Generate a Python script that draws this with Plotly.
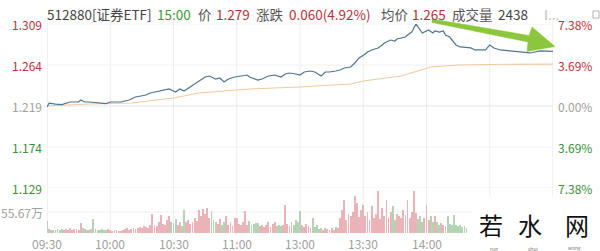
import numpy as np
import plotly.graph_objects as go

W, H = 600, 251
ML, MR = 47, 47

# ---------------- data ----------------
price_min = [0, 1, 4, 7, 11, 15, 16, 18, 20, 25, 28, 30, 35, 37, 39, 42, 44, 47, 49, 51,
             54, 56, 58, 61, 63, 65, 68, 70, 73, 75, 77, 80, 82, 84, 86, 89, 92, 95, 96, 100,
             102, 105, 108, 111, 113, 115, 118, 120, 122, 125, 127, 130, 132, 134, 137, 139, 141, 144, 146, 148,
             151, 152, 154, 157, 159, 160, 163, 165, 166, 170, 171, 173, 175, 177, 178, 181, 183, 184, 186, 188,
             189, 191, 193, 194, 196, 201, 203, 208, 210, 212, 215, 220, 224, 229, 234, 240]
price_val = [1.218, 1.222, 1.221, 1.2205, 1.2234, 1.2234, 1.2256, 1.2234, 1.2234, 1.2223, 1.2217, 1.2234, 1.2234, 1.2245, 1.2256, 1.2289, 1.230, 1.2311, 1.2333, 1.2344,
             1.2355, 1.2366, 1.2377, 1.2344, 1.2377, 1.2355, 1.2399, 1.2431, 1.2475, 1.2508, 1.2519, 1.2486, 1.2497, 1.2453, 1.2486, 1.2508, 1.2519, 1.253, 1.2508, 1.2475,
             1.2486, 1.2519, 1.253, 1.2508, 1.2541, 1.2552, 1.2541, 1.253, 1.2563, 1.2574, 1.2563, 1.2519, 1.2563, 1.2563, 1.2574, 1.2585, 1.2607, 1.2618, 1.2662, 1.2717,
             1.2761, 1.2783, 1.2805, 1.2827, 1.286, 1.2882, 1.2914, 1.2903, 1.2925, 1.2947, 1.2969, 1.3002, 1.309, 1.3024, 1.2991, 1.3024, 1.2991, 1.3013, 1.3002, 1.3013,
             1.2969, 1.2947, 1.2893, 1.286, 1.2838, 1.2827, 1.2805, 1.2805, 1.286, 1.2827, 1.2805, 1.2794, 1.2783, 1.2772, 1.2794, 1.279]

avg_min = [0, 20, 40, 60, 72, 96, 120, 144, 150, 168, 182, 195, 210, 240]
avg_val = [1.219, 1.2212, 1.2223, 1.2278, 1.2333, 1.2377, 1.2399, 1.2431, 1.2464, 1.2519, 1.2618, 1.264, 1.2646, 1.265]

volume = [32, 10, 8, 9, 7, 10, 8, 11, 9, 10,
          9, 12, 8, 10, 11, 9, 26, 12, 10, 8,
          9, 11, 37, 10, 8, 9, 11, 7, 8, 10,
          8, 6, 9, 7, 5, 6, 8, 10, 12, 9,
          11, 13, 10, 14, 16, 12, 18, 15, 13, 20,
          50, 22, 18, 30, 48, 25, 20, 35, 45, 28,
          26, 38, 22, 30, 18, 61, 28, 35, 24, 30,
          40, 32, 61, 45, 64, 50, 66, 40, 58, 35,
          30, 25, 38, 20, 28, 45, 22, 30, 18, 40,
          40, 25, 20, 30, 58, 22, 32, 20, 25, 26,
          26, 18, 22, 15, 20, 28, 17, 24, 30, 19,
          22, 18, 20, 74, 25, 18, 30, 20, 35, 28,
          58, 20, 15, 25, 18, 12, 40, 16, 20, 10,
          12, 8, 14, 10, 9, 13, 8, 15, 12, 40,
          60, 87, 35, 50, 45, 55, 98, 80, 42, 60,
          74, 45, 55, 35, 72, 40, 50, 111, 38, 66,
          45, 87, 40, 55, 72, 35, 50, 45, 40, 60,
          48, 87, 40, 55, 114, 53, 38, 45, 30, 40,
          74, 35, 45, 28, 45, 30, 20, 26, 22, 18,
          45, 24, 20, 48, 21, 18, 22, 15, 18, 14]

grid_ticks = [0, 30, 60, 90, 120, 150, 180, 210, 240]
time_ticks = [0, 30, 60, 90, 120, 150, 180]
time_labels = ["09:30", "10:00", "10:30", "11:00", "13:00", "13:30", "14:00"]
price_ticks = [1.309, 1.264, 1.219, 1.174, 1.129]
price_labels = ["1.309", "1.264", "1.219", "1.174", "1.129"]
pct_labels = ["7.38%", "3.69%", "0.00%", "3.69%", "7.38%"]
vol_tick = 55.67
vol_label = "55.67万"
header_parts = ["512880[证券ETF]", "15:00", "价", "1.279", "涨跌", "0.060(4.92%)",
                "均价", "1.265", "成交量", "2438", "I..."]

# ---------------- helpers ----------------
def px(x):
    return (x - ML) / (W - ML - MR)

def py(y):
    return 1 - y / H

RED = "#c0303a"
GREEN = "#3a8f3a"
GREY = "#a0a0a0"
label_colors = [RED, RED, GREY, GREEN, GREEN]

vidx = np.arange(len(volume))
pint = np.interp(vidx, price_min, price_val)
dirs = np.diff(np.concatenate([[1.219], pint]))
bar_colors = ["#e9b3b8" if d >= 0 else "#b3d3b3" for d in dirs]

fig = go.Figure()
fig.add_trace(go.Scatter(x=avg_min, y=avg_val, mode="lines",
                         line=dict(color="#f2c9a0", width=1.1), yaxis="y", hoverinfo="skip"))
fig.add_trace(go.Scatter(x=price_min, y=price_val, mode="lines",
                         line=dict(color="#4f7590", width=1.2), yaxis="y", hoverinfo="skip"))
fig.add_trace(go.Bar(x=list(vidx), y=volume, marker=dict(color=bar_colors, line=dict(width=0)),
                     width=0.4, yaxis="y2", hoverinfo="skip"))

shapes = []
for i, v in enumerate(price_ticks):
    shapes.append(dict(type="line", xref="x", yref="y", x0=0, x1=240, y0=v, y1=v,
                       line=dict(color="#e6e6e6" if i == 2 else "#f0f0f0", width=1), layer="below"))
shapes.append(dict(type="line", xref="x", yref="y2", x0=0, x1=240, y0=vol_tick, y1=vol_tick,
                   line=dict(color="#f0f0f0", width=1), layer="below"))
for t in grid_ticks:
    shapes.append(dict(type="line", xref="x", yref="paper", x0=t, x1=t, y0=py(233), y1=py(20),
                       line=dict(color="#e4e4e4" if t in (0, 240) else "#eeeeee", width=1), layer="below"))
# green arrow
pts = [(432, 19), (529, 35.5), (532, 27), (555, 46.5), (527, 51.5), (528, 42), (432, 22.5)]
path = "M " + " L ".join(f"{px(x):.5f},{py(y):.5f}" for x, y in pts) + " Z"
shapes.append(dict(type="path", xref="paper", yref="paper", path=path,
                   fillcolor="#8cc63f", line=dict(color="#8cc63f", width=0.5), layer="above"))
# watermark background
shapes.append(dict(type="rect", xref="paper", yref="paper", x0=px(472), x1=px(600), y0=py(251), y1=py(197),
                   fillcolor="white", line=dict(width=0), layer="above"))
# top-right icon
shapes.append(dict(type="rect", xref="paper", yref="paper", x0=px(593), x1=px(599), y0=py(18), y1=py(11),
                   fillcolor="white", line=dict(color="#b0b0b0", width=1), layer="above"))

ann = []
FONT = "Noto Sans CJK SC"
for v, lab, c in zip(price_ticks, price_labels, label_colors):
    ann.append(dict(x=px(44), y=v, xref="paper", yref="y", text=lab, showarrow=False,
                    xanchor="right", yanchor="middle", font=dict(family=FONT, size=12, color=c)))
for v, lab, c in zip(price_ticks, pct_labels, label_colors):
    ann.append(dict(x=px(556), y=v, xref="paper", yref="y", text=lab, showarrow=False,
                    xanchor="left", yanchor="middle", font=dict(family=FONT, size=12, color=c)))
ann.append(dict(x=px(45), y=vol_tick, xref="paper", yref="y2", text=vol_label, showarrow=False,
                xanchor="right", yanchor="middle", font=dict(family=FONT, size=12, color="#a0a0a0")))
for t, lab in zip(time_ticks, time_labels):
    ann.append(dict(x=t, y=py(243), xref="x", yref="paper", text=lab, showarrow=False,
                    xanchor="center", yanchor="middle", font=dict(family=FONT, size=12, color="#a0a0a0")))

header_x = [47, 157, 198, 216, 256, 289, 381, 412, 452, 498, 544]
header_c = ["#444", "#3a9a3a", "#555", "#b8303c", "#555", "#b8303c", "#555", "#b8303c", "#555", "#444", "#bbb"]
for s, hx, hc in zip(header_parts, header_x, header_c):
    ann.append(dict(x=px(hx), y=py(14), xref="paper", yref="paper", text=s, showarrow=False,
                    xanchor="left", yanchor="middle", xshift=-2,
                    font=dict(family=FONT, size=13.5, color=hc)))

for ch, cx in zip(["若", "水", "网"], [491, 530, 577]):
    ann.append(dict(x=px(cx), y=py(224), xref="paper", yref="paper", text=ch, showarrow=False,
                    xanchor="center", yanchor="middle", font=dict(family=FONT, size=24, color="#111")))
for s, cx in zip(["ruo", "shui", "wang"], [494, 533, 574]):
    ann.append(dict(x=px(cx), y=py(248), xref="paper", yref="paper", text=s, showarrow=False,
                    xanchor="center", yanchor="middle", font=dict(family=FONT, size=5, color="#777")))

fig.update_layout(
    width=W, height=H,
    margin=dict(l=ML, r=MR, t=0, b=0),
    paper_bgcolor="white", plot_bgcolor="white",
    showlegend=False, bargap=0,
    xaxis=dict(range=[0, 240], showgrid=False, zeroline=False, showticklabels=False, showline=False, fixedrange=True),
    yaxis=dict(range=[1.129, 1.309], domain=[py(188), py(24)], showgrid=False, zeroline=False,
               showticklabels=False, showline=False),
    yaxis2=dict(range=[0, 2 * vol_tick], domain=[py(233), py(191)], showgrid=False, zeroline=False,
                showticklabels=False, showline=False, anchor="x"),
    shapes=shapes, annotations=ann,
)

fig.write_html("out.html")
